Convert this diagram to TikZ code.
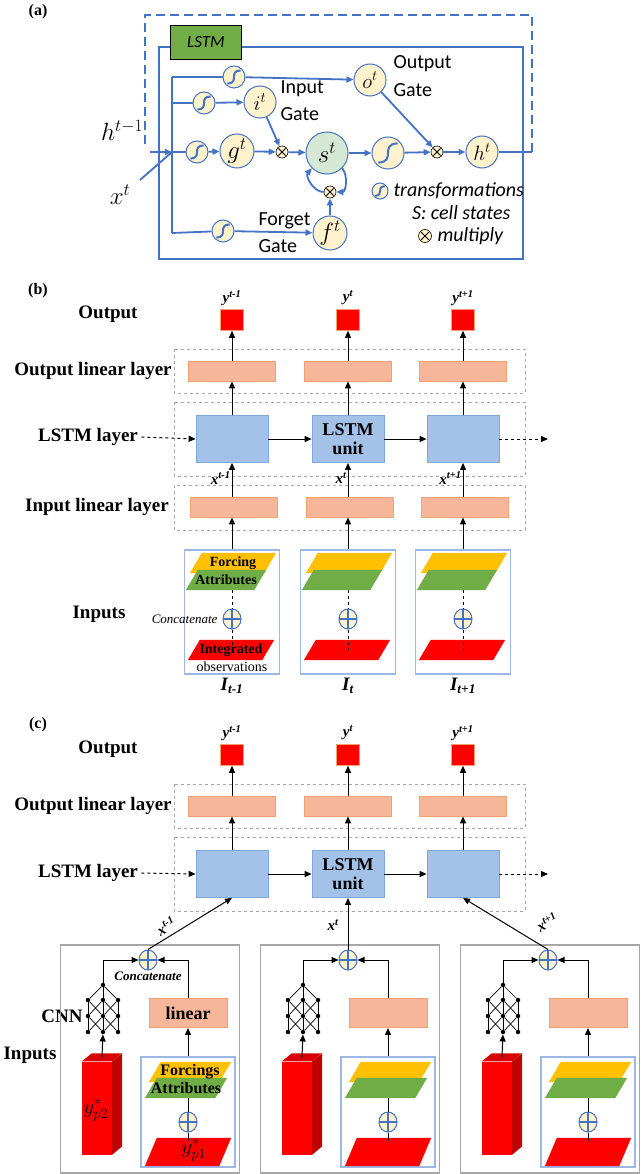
\documentclass[tikz,border=0pt]{standalone}
\usepackage{fontspec}
\setmainfont{Liberation Serif}
\newfontfamily\carl{Carlito}
\usetikzlibrary{arrows.meta,shapes.geometric,calc}

\definecolor{abl}{HTML}{4472C4}
\definecolor{cfill}{HTML}{FFF2CC}
\definecolor{sfill}{HTML}{D5E8D4}
\definecolor{lgreen}{HTML}{70AD47}
\definecolor{obarf}{HTML}{F6B69A}
\definecolor{obard}{HTML}{F4A070}
\definecolor{bboxf}{HTML}{A4C2E8}
\definecolor{bboxd}{HTML}{7FA7DC}
\definecolor{inbd}{HTML}{9DB8E6}
\definecolor{gdash}{HTML}{A6A6A6}
\definecolor{yel}{HTML}{FFC000}
\definecolor{dred}{HTML}{C00000}

% parallelogram plate filled under a named rectangle node
\newcommand\plate[2]{\fill[#2] ([xshift=-6pt]#1.south west) -- ([xshift=6pt]#1.north west)
  -- ([xshift=6pt]#1.north east) -- ([xshift=-6pt]#1.south east) -- cycle;}

\tikzset{
  ar/.style={-{Triangle[length=7pt,width=6pt]}, abl, line width=1.8pt},
  cir/.style={circle, draw=abl, line width=1pt, fill=cfill, inner sep=0pt, minimum size=#1},
  tf/.style={cir=#1, path picture={\draw[abl,line width=2pt]
      ($(path picture bounding box.south west)!0.2!(path picture bounding box.north east)$)
      .. controls ($(path picture bounding box.south east)!0.45!(path picture bounding box.center)$)
      and ($(path picture bounding box.north west)!0.45!(path picture bounding box.center)$)
      .. ($(path picture bounding box.south west)!0.8!(path picture bounding box.north east)$);}},
  mul/.style={cir=#1, draw=black, line width=0.6pt, path picture={\draw[black,line width=0.8pt]
      ($(path picture bounding box.south west)!0.2!(path picture bounding box.north east)$) --
      ($(path picture bounding box.south west)!0.8!(path picture bounding box.north east)$)
      ($(path picture bounding box.north west)!0.2!(path picture bounding box.south east)$) --
      ($(path picture bounding box.north west)!0.8!(path picture bounding box.south east)$);}},
  opl/.style={ellipse, draw=abl, line width=1pt, fill=cfill, minimum width=18pt, minimum height=20pt, inner sep=0pt,
      path picture={\draw[abl,line width=1.2pt] (path picture bounding box.north) -- (path picture bounding box.south)
      (path picture bounding box.west) -- (path picture bounding box.east);}},
  alab/.style={font=\carl\fontsize{20}{22}\selectfont, align=left},
  leg/.style={font=\carl\itshape\fontsize{20}{22}\selectfont},
  bar/.style={rectangle, fill=obarf, draw=obard, line width=0.8pt, minimum width=87pt, minimum height=20pt, inner sep=0pt},
  ysq/.style={rectangle, fill=red, draw=obard, line width=0.6pt, minimum width=23pt, minimum height=21pt, inner sep=0pt},
  unit/.style={rectangle, fill=bboxf, draw=bboxd, line width=0.8pt, minimum width=72pt, minimum height=47pt, inner sep=0pt,
      font=\bfseries\fontsize{18}{19}\selectfont, align=center},
  inb/.style={rectangle, draw=inbd, line width=1.2pt, inner sep=0pt},
  gbox/.style={rectangle, draw=gdash, line width=1.2pt, inner sep=0pt},
  para/.style={rectangle, minimum width=#1, minimum height=20pt, inner sep=0pt, draw=none},
  blk/.style={-{Triangle[length=7pt,width=6pt]}, black, line width=1pt},
  dashar/.style={blk, dashed},
  gframe/.style={gdash, dashed, line width=0.8pt},
  layer/.style={font=\bfseries\fontsize{19}{21}\selectfont},
  sm/.style={font=\bfseries\itshape\fontsize{15}{16}\selectfont},
  dot/.style={circle, fill=black, inner sep=0pt, minimum size=4.5pt},
}

\begin{document}
\begin{tikzpicture}[x=1pt,y=-1pt]
\useasboundingbox (0,0) rectangle (640,1174);

%%%%%%%%%%%%%%%%%%%% (a)
\node[font=\bfseries\fontsize{16}{16}\selectfont] (la) at (38,12) {(a)};
\draw[abl, dashed, dash pattern=on 9pt off 5pt, line width=2.2pt] (532,152) -- (532,15) -- (145,15) -- (145,148);
\draw[abl, line width=1.2pt] (159,47) rectangle (523,259);
\node[rectangle, fill=lgreen, draw=black, line width=0.8pt, minimum width=71pt, minimum height=34pt,
      font=\carl\itshape\fontsize{17}{17}\selectfont] (lstm) at (206,42) {LSTM};

\node[font=\fontsize{26}{26}\selectfont] (hm) at (122,130) {$h^{t-1}$};
\node[font=\fontsize{26}{26}\selectfont] (xt) at (120,195) {$x^{t}$};

\coordinate (bt) at (172,77);
\coordinate (bm) at (172,152);
\coordinate (bb) at (172,233);
\coordinate (hin) at (150,152);
\coordinate (xin) at (140,180);
\coordinate (hout) at (532,152);

\node[tf=22pt] (to) at (234,77) {};
\node[tf=22pt] (ti) at (204,103) {};
\node[tf=22pt] (tg) at (197,152) {};
\node[tf=22pt] (tf) at (223,231) {};
\node[cir=32pt, font=\fontsize{22}{22}\selectfont] (it) at (260,102) {$i^t$};
\node[cir=32pt, font=\fontsize{22}{22}\selectfont] (ot) at (370,80) {$o^t$};
\node[cir=34pt, font=\fontsize{24}{24}\selectfont] (gt) at (237,151) {$g^t$};
\node[cir=42pt, fill=sfill, font=\fontsize{26}{26}\selectfont] (st) at (327,153) {$s^t$};
\node[tf=32pt] (ts) at (388,153) {};
\node[mul=12pt] (m1) at (282,152) {};
\node[mul=12pt] (m2) at (437,152) {};
\node[mul=12pt] (m3) at (330,192) {};
\node[cir=32pt, font=\fontsize{22}{22}\selectfont] (ht) at (482,152) {$h^t$};
\node[cir=34pt, font=\fontsize{24}{24}\selectfont] (ft) at (330,233) {$f^t$};

\node[alab, anchor=west] at (277,89) {Input};
\node[alab, anchor=west] at (277,114) {Gate};
\node[alab, anchor=west] at (390,64) {Output};
\node[alab, anchor=west] at (390,90) {Gate};
\node[alab, anchor=west] at (255,221) {Forget};
\node[alab, anchor=west] at (255,246) {Gate};
\node[tf=16pt] (lg1) at (380,191) {};
\node[leg, anchor=west] at (390,191) {transformations};
\node[leg, anchor=east] at (514,213) {S: cell states};
\node[mul=13pt] (lg2) at (425,236) {};
\node[leg, anchor=west] at (434,236) {multiply};

\draw[ar] (hin) -- (bm);
\draw[abl, line width=1.8pt] (xin) -- (bm);
\draw[abl, line width=1.8pt] (bt) -- (bb);
\draw[abl, line width=1.8pt] (bt) -- (to);
\draw[ar] (to) -- (ot);
\draw[abl, line width=1.8pt] (172,103) -- (ti);
\draw[ar] (ti) -- (it);
\draw[abl, line width=1.8pt] (bm) -- (tg);
\draw[ar] (tg) -- (gt);
\draw[ar] (gt) -- (m1);
\draw[ar] (it) -- (m1);
\draw[ar] (m1) -- (st);
\draw[ar] (st) -- (ts);
\draw[ar] (ts) -- (m2);
\draw[ar] (ot) -- (m2);
\draw[ar] (m2) -- (ht);
\draw[abl, line width=1.8pt] (ht) -- (hout);
\draw[abl, line width=1.8pt] (bb) -- (tf);
\draw[ar] (tf) -- (ft);
\draw[ar] (ft) -- (m3);
\draw[ar] (m3.west) to[out=180, in=230] (st.south west);
\draw[ar] (st.south east) to[out=-50, in=0] (m3.east);

%%%%%%%%%%%%%%%%%%%% (b)
\node[font=\bfseries\fontsize{16}{16}\selectfont] (lb) at (38,291) {(b)};
\node[layer] (bout) at (108,314) {Output};
\node[layer] (bol) at (93,371) {Output linear layer};
\node[layer] (bll) at (88,437) {LSTM layer};
\node[layer] (bil) at (97,507) {Input linear layer};
\node[layer] (binp) at (99,614) {Inputs};
\draw[gframe] (174,349) rectangle (525,393);
\draw[gframe] (174,402) rectangle (525,476);
\draw[gframe] (174,485) rectangle (525,530);

\foreach \i/\xc/\s in {1/232/{t-1},2/348/t,3/463/{t+1}}{
  \node[ysq] (by\i) at (\xc,320) {};
  \node[sm] at (\xc,298) {y\textsuperscript{\s}};
  \node[bar] (bo\i) at (\xc,371) {};
  \node[unit] (bl\i) at (\xc,439) {};
  \node[bar] (bi\i) at (\xc+2,507) {};
  \node[inb, minimum width=95pt, minimum height=124pt] (bx\i) at (\xc,612) {};
  \node[para=74pt] (byl\i) at (\xc+1,563) {};
  \plate{byl\i}{yel}
  \node[para=68pt] (bgr\i) at (\xc-6,580) {};
  \plate{bgr\i}{lgreen}
  \node[para=74pt] (brd\i) at (\xc-1,650) {};
  \plate{brd\i}{red}
  \node[opl] (bp\i) at (\xc,619) {};
  \draw[black, dashed, line width=1pt] (bgr\i.south -| bp\i) -- (bp\i.north) (bp\i.south) -- (brd\i.center -| bp\i);
  \node[font=\bfseries\itshape\fontsize{19}{19}\selectfont] at (\xc,686) {I\textsubscript{\s}};
  \draw[blk] (bo\i.north) -- (by\i.south);
  \draw[blk] (bl\i.north) -- (bo\i.south);
  \draw[blk] (bi\i.north -| bl\i) -- node[sm, left, pos=0.55, inner sep=1pt] {x\textsuperscript{\s}} (bl\i.south);
  \draw[blk] (bx\i.north) -- (bi\i.south -| bx\i);
}
\node[unit] at (bl2) {LSTM\\unit};
\node[font=\bfseries\fontsize{14}{14}\selectfont] at (byl1) {Forcing};
\node[font=\bfseries\fontsize{14}{14}\selectfont] at (bgr1) {Attributes};
\node[font=\bfseries\fontsize{14}{14}\selectfont] at (brd1) {Integrated};
\node[font=\fontsize{14}{14}\selectfont] at (232,667) {observations};
\node[font=\itshape\fontsize{13}{13}\selectfont, anchor=east] at (221,619) {Concatenate};
\coordinate (bend) at (548,439);
\draw[dashar] (bll.east) -- (bl1.west);
\draw[blk] (bl1) -- (bl2);
\draw[blk] (bl2) -- (bl3);
\draw[dashar] (bl3.east) -- (bend);

%%%%%%%%%%%%%%%%%%%% (c)
\node[font=\bfseries\fontsize{16}{16}\selectfont] (lc) at (38,725) {(c)};
\node[layer] (cout) at (108,749) {Output};
\node[layer] (col) at (93,806) {Output linear layer};
\node[layer] (cll) at (88,873) {LSTM layer};
\node[layer] (cinp) at (30,1055) {Inputs};
\node[layer] (ccnn) at (62,1016) {CNN};
\draw[gframe] (174,784) rectangle (525,828);
\draw[gframe] (174,837) rectangle (525,911);

\foreach \i/\xc/\s in {1/232/{t-1},2/348/t,3/463/{t+1}}{
  \node[ysq] (cy\i) at (\xc,755) {};
  \node[sm] at (\xc,733) {y\textsuperscript{\s}};
  \node[bar] (co\i) at (\xc,806) {};
  \node[unit] (cl\i) at (\xc,874) {};
  \draw[blk] (co\i.north) -- (cy\i.south);
  \draw[blk] (cl\i.north) -- (co\i.south);
}
\node[unit] at (cl2) {LSTM\\unit};
\coordinate (cend) at (548,874);
\draw[dashar] (cll.east) -- (cl1.west);
\draw[blk] (cl1) -- (cl2);
\draw[blk] (cl2) -- (cl3);
\draw[dashar] (cl3.east) -- (cend);

\foreach \i/\o in {1/0,2/200,3/400}{
  \node[gbox, minimum width=179pt, minimum height=228pt] (cg\i) at (150+\o,1059) {};
  \node[opl] (cp\i) at (148+\o,960) {};
  % CNN
  \node[dot] (cn\i-0-2) at (103+\o,985) {};
  \foreach \r/\yy in {1/1000,2/1016,3/1032}{
    \foreach \j/\xx in {1/88,2/103,3/118}{
      \node[dot] (cn\i-\r-\j) at (\xx+\o,\yy) {};
    }
  }
  \foreach \j in {1,2,3}{ \draw[black, line width=0.7pt] (cn\i-0-2) -- (cn\i-1-\j); }
  \foreach \r/\q in {1/2,2/3}{
    \foreach \j/\k in {1/1,1/2,2/1,2/2,2/3,3/2,3/3}{
      \draw[black, line width=0.7pt] (cn\i-\r-\j) -- (cn\i-\q-\k);
    }
  }
  \node[rectangle, fill=obarf, draw=obard, line width=0.8pt, minimum width=78pt, minimum height=29pt,
        inner sep=0pt] (clin\i) at (188+\o,1013) {};
  % red prism
  \node[rectangle, fill=red, minimum width=30pt, minimum height=93pt, inner sep=0pt] (cpr\i) at (97+\o,1108) {};
  \fill[dred] (cpr\i.north east) -- ++(10,-8) -- ++(0,93) -- (cpr\i.south east) -- cycle;
  \fill[red!85!black] (cpr\i.north west) -- ++(10,-8) -- ++(30,0) -- (cpr\i.north east) -- cycle;
  \coordinate (cpt\i) at ($(cpr\i.north)+(5,-4)$);
  \node[inb, minimum width=94pt, minimum height=110pt] (cib\i) at (188+\o,1112) {};
  \node[para=70pt] (cyl\i) at (190+\o,1072) {};
  \plate{cyl\i}{yel}
  \node[para=70pt] (cgr\i) at (186+\o,1088) {};
  \plate{cgr\i}{lgreen}
  \node[para=74pt, minimum height=28pt] (crd\i) at (188+\o,1152) {};
  \plate{crd\i}{red}
  \node[opl] (cq\i) at (188+\o,1122) {};
  \draw[black, line width=1pt] (cgr\i.south -| cq\i) -- (cq\i.north) (cq\i.south) -- ++(0,8);
  \draw[blk] (cpt\i) -- (cn\i-3-2);
  \draw[blk] (cn\i-0-2) |- (cp\i.west);
  \draw[blk] (clin\i.north) |- (cp\i.east);
  \draw[blk] (cib\i.north) -- (clin\i.south);
}
\draw[blk] (cp1.north) -- (cl1.south);
\draw[blk] (cp2.north) -- (cl2.south);
\draw[blk] (cp3.north) -- (cl3.south);
\node[sm] at (166,926) {\rotatebox{30}{x\textsuperscript{t-1}}};
\node[sm] at (333,925) {x\textsuperscript{t}};
\node[sm] at (547,922) {\rotatebox{30}{x\textsuperscript{t+1}}};
\node[font=\itshape\bfseries\fontsize{13}{13}\selectfont] at (148,976) {Concatenate};
\node[font=\bfseries\fontsize{18}{18}\selectfont] at (clin1) {linear};
\node[font=\bfseries\fontsize{16}{16}\selectfont] at (cyl1) {Forcings};
\node[font=\bfseries\fontsize{16}{16}\selectfont] at (cgr1) {Attributes};
\node[font=\fontsize{22}{22}\selectfont] at (96,1110) {$y^*_{p2}$};
\node[font=\fontsize{22}{22}\selectfont] at (194,1150) {$y^*_{p1}$};
\end{tikzpicture}
\end{document}
